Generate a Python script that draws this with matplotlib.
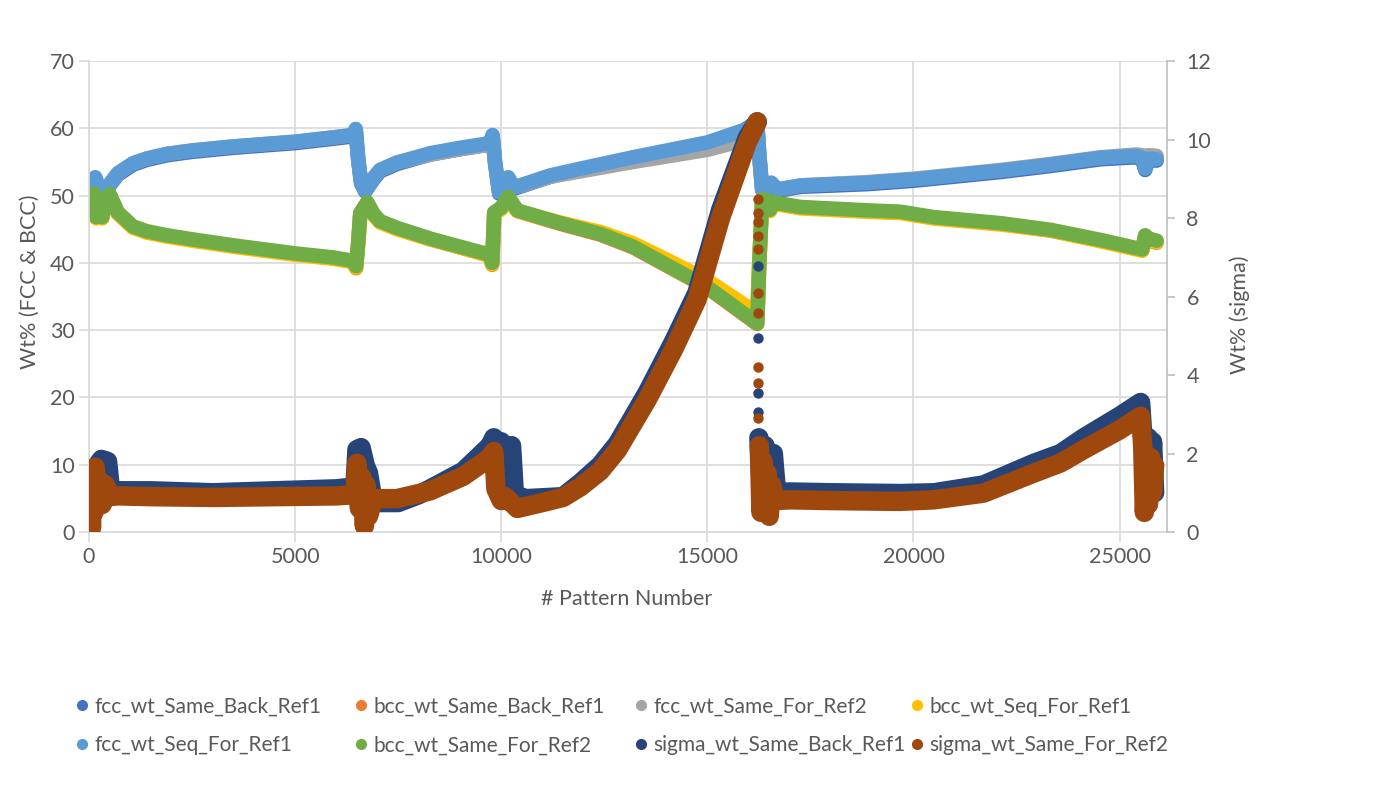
import numpy as np
import matplotlib
matplotlib.use("Agg")
import matplotlib.pyplot as plt
from matplotlib.lines import Line2D

plt.rcParams['font.family'] = ['Lato', 'DejaVu Sans']

nan = np.nan

# ---- data (x = pattern number) ----
# fcc series (left axis)
fcc_x = [0, 60, 150, 250, 350, 450, 700, 1070, 1400, 1900, 2500, 3500, 5000, 6000, 6400, 6470,
         6530, 6600, 6700, 6900, 7060, 7470, 8280, 9000, 9730, 9790, 9850, 9950, 10170, 10300,
         10500, 11190, 11920, 13200, 15000, 15870, 16210, 16260, 16330, 16450, 16550, 16700,
         17260, 18880, 20000, 22110, 23330, 24540, 25400, 25550, 25620, 25700, 25900]
fcc_seq_for_ref1 = [50.0, 51.2, 52.7, 51.0, 50.5, 51.3, 53.3, 54.8, 55.5, 56.2, 56.7, 57.3, 58.0,
                    58.7, 59.0, 59.9, 55.5, 52.0, 50.8, 52.6, 53.8, 54.9, 56.3, 57.1, 57.8, 59.0,
                    55.0, 50.5, 52.7, 51.2, 51.6, 53.0, 54.0, 55.7, 57.9, 59.7, 61.0, 56.0, 51.0,
                    51.3, 51.9, 50.9, 51.5, 51.9, 52.4, 53.7, 54.6, 55.6, 55.9, 55.6, 54.0, 55.5,
                    55.4]
fcc_same_back_ref1 = [49.8, 51.0, 52.4, 50.8, 50.3, 51.1, 53.1, 54.6, 55.3, 56.0, 56.5, 57.1, 57.8,
                      58.5, 58.8, 59.6, 55.3, 51.8, 50.6, 52.4, 53.6, 54.7, 56.1, 56.9, 57.6, 58.7,
                      54.8, 50.3, 52.5, 51.0, 51.4, 52.8, 53.8, 55.4, 57.6, 59.4, 60.8, 55.8, 50.8,
                      51.1, 51.7, 50.7, 51.3, 51.7, 52.2, 53.5, 54.4, 55.4, 55.7, 55.4, 53.8, 55.3,
                      55.2]
fcc_same_for_ref2 = [50.0, 51.2, 52.7, 51.0, 50.5, 51.3, 53.3, 54.8, 55.5, 56.2, 56.7, 57.3, 58.0,
                     58.7, 59.0, 59.8, 55.5, 52.0, 50.8, 52.6, 53.8, 54.9, 56.1, 56.9, 57.6, 58.8,
                     55.0, 50.5, 52.7, 51.2, 51.5, 52.8, 53.6, 55.0, 56.8, 58.2, 59.3, 56.0, 51.0,
                     51.3, 51.9, 50.9, 51.5, 52.0, 52.5, 53.8, 54.7, 55.7, 56.1, 56.0, 55.0, 56.0,
                     55.9]

# bcc series (left axis)
bcc_x = [0, 60, 120, 180, 250, 320, 400, 500, 700, 1070, 1400, 1890, 2500, 3500, 5000, 5930, 6400,
         6480, 6530, 6580, 6750, 6900, 7060, 7470, 8280, 9000, 9730, 9780, 9830, 10000, 10170,
         10390, 11430, 12400, 13200, 14100, 15000, 16210, 16260, 16330, 16450, 16520, 16600,
         17260, 18880, 19680, 20490, 22110, 23330, 24540, 25400, 25550, 25620, 25700, 25900]
bcc_same_for_ref2 = [50.0, 48.5, 50.3, 46.8, 49.5, 46.8, 49.0, 50.2, 47.5, 45.4, 44.7, 44.1, 43.5,
                     42.6, 41.4, 40.8, 40.3, 39.5, 43.0, 47.4, 49.0, 47.3, 46.2, 45.2, 43.6, 42.4,
                     41.2, 40.0, 47.5, 48.2, 49.8, 47.8, 45.9, 44.3, 42.4, 39.4, 36.4, 31.0, 40.0,
                     49.5, 49.3, 47.9, 49.0, 48.3, 47.8, 47.6, 46.8, 45.9, 44.9, 43.4, 42.2, 42.0,
                     44.1, 43.6, 43.3]
bcc_seq_for_ref1 = [49.8, 48.3, 50.1, 46.6, 49.3, 46.6, 48.8, 50.0, 47.3, 45.2, 44.5, 43.9, 43.3,
                    42.4, 41.2, 40.6, 40.1, 39.3, 42.8, 47.2, 48.8, 47.1, 46.0, 45.0, 43.5, 42.3,
                    41.0, 39.8, 47.3, 48.0, 49.6, 47.7, 46.0, 44.6, 42.9, 40.2, 37.4, 32.5, 40.5,
                    49.3, 49.1, 47.7, 48.8, 48.1, 47.6, 47.4, 46.6, 45.7, 44.8, 43.2, 42.0, 41.8,
                    43.9, 43.4, 43.1]
bcc_same_back_ref1 = [49.9, 48.4, 50.2, 46.7, 49.4, 46.7, 48.9, 50.1, 47.4, 45.3, 44.6, 44.0, 43.4,
                      42.5, 41.3, 40.7, 40.2, 39.2, 42.9, 47.3, 48.9, 47.2, 46.1, 45.1, 43.5, 42.3,
                      41.1, 39.7, 47.4, 48.1, 49.7, 47.7, 45.8, 44.2, 42.3, 39.3, 36.3, 30.9, 39.9,
                      49.4, 49.2, 47.8, 48.9, 48.2, 47.7, 47.5, 46.7, 45.8, 44.8, 43.3, 42.1, 41.9,
                      43.9, 43.3, 43.0]

# sigma series (right axis); nan = gap before the sparse drop at ~16250
sig_back_x = [0, 60, 120, 200, 300, 450, 520, 700, 1500, 3000, 4500, 6000, 6450, 6500, 6600, 6700,
              6780, 6900, 7500, 8000, 8280, 9080, 9730, 9820, 9900, 10000, 10150, 10250, 10320,
              10600, 11500, 11920, 12400, 12820, 13540, 14180, 14750, 15320, 15970, 16210, 16230,
              16250, 16300, 16400, 16500, 16600, 16680, 17000, 18000, 19680, 20500, 21700, 22920,
              23570, 24130, 25000, 25510, 25560, 25650, 25700, 25750, 25800, 25850]
sigma_same_back_ref1 = [1.1, 1.5, 1.2, 1.7, 1.85, 1.8, 1.1, 1.05, 1.05, 1.0, 1.05, 1.1, 1.15, 2.1,
                        2.15, 1.7, 1.5, 0.75, 0.75, 0.95, 1.1, 1.55, 2.2, 2.4, 1.8, 2.3, 1.7, 2.2,
                        0.95, 0.85, 0.9, 1.25, 1.7, 2.25, 3.55, 4.85, 6.1, 8.2, 10.05, 10.45, nan,
                        2.4, 1.3, 2.2, 1.4, 2.0, 1.0, 1.02, 1.0, 0.98, 1.0, 1.2, 1.75, 2.0, 2.4,
                        2.95, 3.3, 2.5, 2.2, 2.4, 1.2, 2.3, 1.0]
sig_for_x = [0, 30, 60, 90, 120, 150, 200, 260, 320, 400, 500, 700, 1500, 3000, 4500, 6000, 6450,
             6500, 6560, 6620, 6680, 6720, 6780, 6900, 7470, 8280, 9080, 9730, 9820, 9870, 10000,
             10100, 10390, 11000, 11500, 11920, 12400, 12820, 13540, 14180, 14750, 15320, 15970,
             16210, 16230, 16260, 16300, 16350, 16400, 16450, 16500, 16560, 16650, 17000, 18000,
             19680, 20500, 21700, 22920, 23570, 24130, 25000, 25510, 25560, 25600, 25650, 25700,
             25750, 25800, 25850]
sigma_same_for_ref2 = [0.3, 1.2, 0.1, 1.4, 0.5, 1.65, 0.8, 1.3, 0.7, 1.2, 0.9, 0.92, 0.9, 0.88,
                       0.9, 0.92, 0.95, 1.75, 0.6, 1.4, 0.15, 1.2, 0.4, 0.85, 0.85, 1.05, 1.42,
                       1.9, 2.05, 1.1, 0.8, 0.9, 0.6, 0.75, 0.88, 1.15, 1.55, 2.09, 3.37, 4.65,
                       5.92, 8.0, 9.93, 10.45, nan, 2.2, 0.5, 1.8, 0.6, 1.5, 0.4, 1.2, 0.8, 0.82,
                       0.8, 0.78, 0.82, 0.99, 1.5, 1.76, 2.1, 2.6, 2.95, 2.2, 0.5, 1.6, 0.7, 1.9,
                       1.0, 1.7]
# isolated points of the fast drop
drop_back_y = [6.77, 4.95, 3.55, 3.05, 2.43]
drop_for_y = [8.48, 8.14, 7.89, 7.53, 7.2, 6.1, 5.59, 4.2, 3.8, 2.9, 2.1]
drop_x = 16240

names = ['fcc_wt_Same_Back_Ref1', 'bcc_wt_Same_Back_Ref1', 'fcc_wt_Same_For_Ref2',
         'bcc_wt_Seq_For_Ref1', 'fcc_wt_Seq_For_Ref1', 'bcc_wt_Same_For_Ref2',
         'sigma_wt_Same_Back_Ref1', 'sigma_wt_Same_For_Ref2']
colors = ['#4472C4', '#ED7D31', '#A5A5A5', '#FFC000', '#5B9BD5', '#70AD47', '#264478', '#9E480E']

txt = '#595959'
grid_c = '#D9D9D9'

fig = plt.figure(figsize=(14, 7.88), dpi=100)
ax = fig.add_axes([89 / 1400, 1 - 532 / 788, 1078 / 1400, 471 / 788])
ax2 = ax.twinx()

kw = dict(lw=10.5, solid_capstyle='round', solid_joinstyle='round')
left_series = [(fcc_x, fcc_same_back_ref1), (bcc_x, bcc_same_back_ref1),
               (fcc_x, fcc_same_for_ref2), (bcc_x, bcc_seq_for_ref1),
               (fcc_x, fcc_seq_for_ref1), (bcc_x, bcc_same_for_ref2)]
for (xs, ys), c in zip(left_series, colors[:6]):
    ax.plot(xs, ys, color=c, **kw)

kw2 = dict(lw=14, solid_capstyle='round', solid_joinstyle='round')
ax2.plot(sig_back_x, sigma_same_back_ref1, color=colors[6], **kw2)
ax2.plot([drop_x] * len(drop_back_y), drop_back_y, 'o', color=colors[6], ms=7.5, mew=0)
ax2.plot(sig_for_x, sigma_same_for_ref2, color=colors[7], **kw2)
ax2.plot([drop_x] * len(drop_for_y), drop_for_y, 'o', color=colors[7], ms=7.5, mew=0)

ax.set_xlim(0, 26150)
ax.set_ylim(0, 70)
ax2.set_ylim(0, 12)
ax.set_xticks(range(0, 25001, 5000))
ax.set_yticks(range(0, 71, 10))
ax2.set_yticks(range(0, 13, 2))

ax.grid(True, color=grid_c, lw=1.2)
ax.set_axisbelow(True)
for s in ['top', 'right']:
    ax.spines[s].set_visible(False)
for s in ['left', 'bottom']:
    ax.spines[s].set_color(grid_c)
    ax.spines[s].set_linewidth(1.2)
for s in ['top', 'left', 'bottom']:
    ax2.spines[s].set_visible(False)
ax2.spines['right'].set_color('#BFBFBF')
ax2.spines['right'].set_linewidth(1.2)

ax.tick_params(axis='both', length=7, width=1.2, color=grid_c, labelcolor=txt, labelsize=15.5)
ax.tick_params(axis='y', pad=3)
ax.tick_params(axis='x', pad=4)
ax2.tick_params(axis='y', length=6, width=1.2, color='#BFBFBF', labelcolor=txt, labelsize=15.5,
                pad=8)

fig.text(627 / 1400, 1 - 599 / 788, '# Pattern Number', ha='center', va='center',
         color=txt, fontsize=15.5)
fig.text(30 / 1400, 1 - 282 / 788, 'Wt% (FCC & BCC)', ha='center', va='center', rotation=90,
         color=txt, fontsize=15.5)
fig.text(1240 / 1400, 1 - 315 / 788, 'Wt% (sigma)', ha='center', va='center', rotation=90,
         color=txt, fontsize=15.5)

# legend: 4 equal-width columns, 2 rows, like the Excel legend
handles = [Line2D([], [], marker='o', ls='', color=c, ms=7) for c in colors]
col_left = [76, 355, 635, 911]
for i, xl in enumerate(col_left):
    leg = fig.legend([handles[i], handles[i + 4]], [names[i], names[i + 4]],
                     loc='center left', bbox_to_anchor=(xl / 1400, 1 - 726 / 788),
                     frameon=False, fontsize=15, labelcolor=txt, handlelength=0.6,
                     handletextpad=0.3, labelspacing=0.9, borderpad=0, borderaxespad=0)

fig.savefig('out.png', dpi=100)
